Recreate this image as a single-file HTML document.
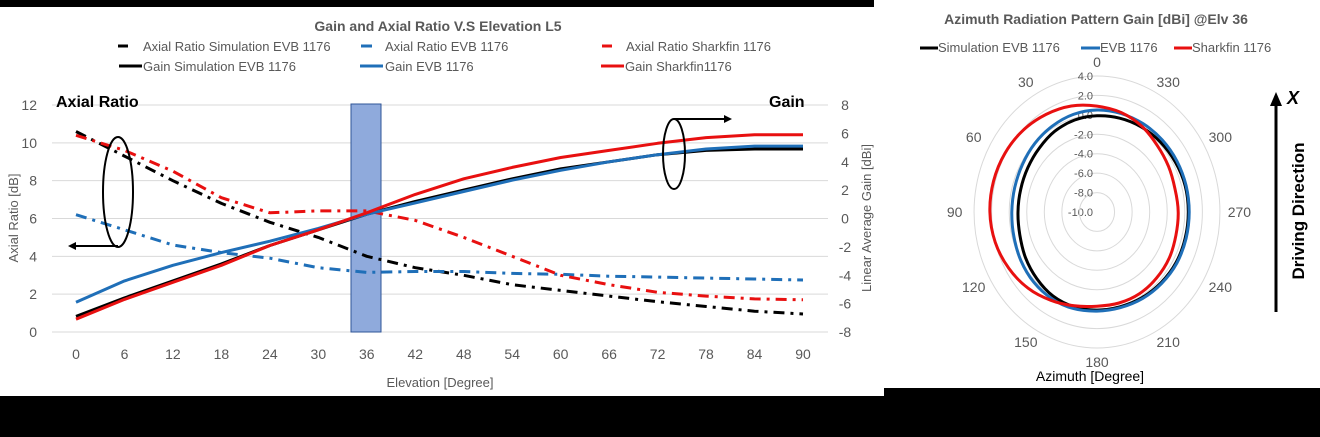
<!DOCTYPE html>
<html><head><meta charset="utf-8">
<style>
html,body{margin:0;padding:0;background:#000;}
body{width:1320px;height:437px;overflow:hidden;position:relative;font-family:"Liberation Sans",sans-serif;}
svg{position:absolute;left:0;top:0;}
</style></head>
<body>
<svg id="chart" width="1320" height="437" viewBox="0 0 1320 437" xmlns="http://www.w3.org/2000/svg" font-family="Liberation Sans, sans-serif">
  <rect x="0" y="0" width="1320" height="437" fill="#000"/>
  <rect x="0" y="7" width="884" height="389" fill="#fff"/>
  <rect x="874" y="0" width="446" height="388" fill="#fff"/>
  <g id="left"></g>
  <g id="right"></g>
</svg>
<script>
// ---- Left chart data ----
const elevations = [0,6,12,18,24,30,36,42,48,54,60,66,72,78,84,90];
const arSim   = [10.6,9.3,8.0,6.8,5.8,5.0,4.0,3.4,3.0,2.5,2.2,1.9,1.6,1.35,1.1,0.95];
const arEvb   = [6.2,5.4,4.6,4.2,3.9,3.4,3.15,3.2,3.2,3.1,3.05,2.95,2.9,2.85,2.8,2.75];
const arShark = [10.4,9.6,8.5,7.1,6.3,6.4,6.4,5.9,5.0,4.0,3.0,2.5,2.1,1.9,1.75,1.7];
const gainSim   = [-6.9,-5.6,-4.4,-3.2,-1.9,-0.8,0.3,1.2,2.0,2.8,3.5,4.0,4.5,4.8,4.9,4.9];
const gainEvb   = [-5.9,-4.4,-3.3,-2.4,-1.6,-0.7,0.3,1.1,1.9,2.7,3.4,4.0,4.5,4.9,5.1,5.1];
const gainShark = [-7.1,-5.7,-4.5,-3.3,-1.9,-0.8,0.4,1.7,2.8,3.6,4.3,4.8,5.3,5.7,5.9,5.9];
const arTicks = [0,2,4,6,8,10,12];
const gainTicks = [-8,-6,-4,-2,0,2,4,6,8];
// ---- Polar data ----
const azimuths = [0,15,30,45,60,75,90,105,120,135,150,165,180,195,210,225,240,255,270,285,300,315,330,345];
const polSim   = [-0.1,-0.2,-0.4,-0.7,-0.9,-1.0,-1.0,-0.9,-0.6,-0.3,0,0.1,0.1,0.1,0.2,0.3,0.4,0.4,0.4,0.4,0.3,0.2,0.1,0];
const polEvb   = [0.5,0.4,0.2,0,-0.2,-0.3,-0.3,-0.2,0,0.2,0.3,0.3,0.2,0.2,0.3,0.4,0.5,0.5,0.5,0.5,0.5,0.5,0.5,0.5];
const polShark = [0.9,1.3,1.6,1.9,2.1,2.2,2.2,2.0,1.6,1.1,0.5,0,-0.3,-0.3,-0.3,-0.4,-0.5,-0.7,-0.75,-0.8,-0.6,-0.3,0.2,0.6];
const rTicks = [-10,-8,-6,-4,-2,0,2,4];
const angleLabels = [0,30,60,90,120,150,180,210,240,270,300,330];

const NS="http://www.w3.org/2000/svg";
function mk(tag,attrs,parent,text){const e=document.createElementNS(NS,tag);for(const k in attrs)e.setAttribute(k,attrs[k]);if(text!==undefined)e.textContent=text;parent.appendChild(e);return e;}

const L=document.getElementById('left');
const xS=v=>76+v*(803-76)/90;
const yAR=v=>332-v*(332-105)/12;
const yG=v=>332-(v+8)*(332-105)/16;

// gridlines + ticks
arTicks.forEach((t,i)=>{
  const g=mk('line',{x1:52,x2:828,y1:yAR(t),y2:yAR(t),stroke:'#d9d9d9','stroke-width':1},L);
  
  
  const lb=mk('text',{x:37,y:yAR(t)+5,'text-anchor':'end','font-size':14,fill:'#595959'},L,String(t));
  
  
});
gainTicks.forEach(t=>{
  const lb=mk('text',{x:845,y:yG(t)+5,'text-anchor':'middle','font-size':14,fill:'#595959'},L,String(t));
  
  
});
elevations.forEach(t=>{
  const lb=mk('text',{x:xS(t),y:359,'text-anchor':'middle','font-size':14,fill:'#595959'},L,String(t));
  
  
});
// highlight band
const band=mk('rect',{x:351,y:104,width:30,height:228,fill:'#8faadc',stroke:'#2f5597','stroke-width':1},L);



function line(xs,ys,yf,color,dashed,name){
  const d=xs.map((x,i)=>(i?'L':'M')+xS(x).toFixed(1)+','+yf(ys[i]).toFixed(1)).join(' ');
  const p=mk('path',{d:d,fill:'none',stroke:color,'stroke-width':3,'stroke-linejoin':'round'},L);
  if(dashed)p.setAttribute('stroke-dasharray','11 6 3 6');
  
  
}
line(elevations,arSim,yAR,'#000',true,'axial-ratio-simulation-line');
line(elevations,arEvb,yAR,'#1f6fb8',true,'axial-ratio-evb-line');
line(elevations,arShark,yAR,'#e81010',true,'axial-ratio-sharkfin-line');
line(elevations,gainSim,yG,'#000',false,'gain-simulation-line');
line(elevations,gainEvb,yG,'#1f6fb8',false,'gain-evb-line');
line(elevations,gainShark,yG,'#e81010',false,'gain-sharkfin-line');

// polar
const R=document.getElementById('right');
const cx=1097,cy=212,pr=136/14,sx=0.904;
const rOf=v=>(v+10)*pr;
rTicks.forEach(t=>{
  const r=rOf(t);
  if(r>0){const c=mk('ellipse',{cx:cx,cy:cy,rx:r*sx,ry:r,fill:'none',stroke:'#d9d9d9','stroke-width':1},R);
  
  }
  const lb=mk('text',{x:cx-4,y:cy-r+4,'text-anchor':'end','font-size':11,fill:'#595959'},R,t.toFixed(1));
  
  
});
angleLabels.forEach(a=>{
  const rr=150,rad=a*Math.PI/180;
  const x=cx-Math.sin(rad)*rr*sx*1.05, y=cy-Math.cos(rad)*rr+5;
  const lb=mk('text',{x:x,y:y,'text-anchor':'middle','font-size':14,fill:'#595959'},R,String(a));
  
  
});
function polar(vals,color,name){
  const pts=azimuths.map((a,i)=>{const rad=a*Math.PI/180,r=rOf(vals[i]);return [cx-Math.sin(rad)*r*sx,cy-Math.cos(rad)*r];});
  const n=pts.length;let d='M'+pts[0][0].toFixed(1)+','+pts[0][1].toFixed(1);
  for(let i=0;i<n;i++){const p0=pts[(i-1+n)%n],p1=pts[i],p2=pts[(i+1)%n],p3=pts[(i+2)%n];
    const c1=[p1[0]+(p2[0]-p0[0])/6,p1[1]+(p2[1]-p0[1])/6],c2=[p2[0]-(p3[0]-p1[0])/6,p2[1]-(p3[1]-p1[1])/6];
    d+=' C'+c1.map(v=>v.toFixed(1)).join(',')+' '+c2.map(v=>v.toFixed(1)).join(',')+' '+p2.map(v=>v.toFixed(1)).join(',');}
  const p=mk('path',{d:d+'Z',fill:'none',stroke:color,'stroke-width':3},R);
  
  
}
polar(polSim,'#000','polar-simulation-line');
polar(polEvb,'#1f6fb8','polar-evb-line');
polar(polShark,'#e81010','polar-sharkfin-line');
</script>
<svg width="1320" height="437" viewBox="0 0 1320 437" xmlns="http://www.w3.org/2000/svg" font-family="Liberation Sans, sans-serif">
  <text x="438" y="31" text-anchor="middle" font-size="14" font-weight="bold" fill="#595959">Gain and Axial Ratio V.S Elevation L5</text>
  <g font-size="13" fill="#595959">
    <g><line x1="118" y1="46" x2="128" y2="46" stroke="#000" stroke-width="3"/><text x="143" y="51">Axial Ratio Simulation EVB 1176</text></g>
    <g><line x1="361" y1="46" x2="372" y2="46" stroke="#1f6fb8" stroke-width="3"/><text x="385" y="51">Axial Ratio EVB 1176</text></g>
    <g><line x1="602" y1="46" x2="612" y2="46" stroke="#e81010" stroke-width="3"/><text x="626" y="51">Axial Ratio Sharkfin 1176</text></g>
    <g><line x1="119" y1="66" x2="142" y2="66" stroke="#000" stroke-width="3"/><text x="143" y="71">Gain Simulation EVB 1176</text></g>
    <g><line x1="360" y1="66" x2="383" y2="66" stroke="#1f6fb8" stroke-width="3"/><text x="385" y="71">Gain EVB 1176</text></g>
    <g><line x1="601" y1="66" x2="624" y2="66" stroke="#e81010" stroke-width="3"/><text x="625" y="71">Gain Sharkfin1176</text></g>
  </g>
  <text x="56" y="107" font-size="16" font-weight="bold" fill="#000">Axial Ratio</text>
  <text x="769" y="107" font-size="16" font-weight="bold" fill="#000">Gain</text>
  <text transform="translate(18,218) rotate(-90)" text-anchor="middle" font-size="13" fill="#595959">Axial Ratio [dB]</text>
  <text transform="translate(871,218) rotate(-90)" text-anchor="middle" font-size="13" fill="#595959">Linear Average Gain [dBi]</text>
  <text x="440" y="387" text-anchor="middle" font-size="13" fill="#595959">Elevation [Degree]</text>
  <ellipse cx="118" cy="192" rx="15" ry="55" fill="none" stroke="#000" stroke-width="2"/>
  <line x1="118" y1="246" x2="74" y2="246" stroke="#000" stroke-width="2"/>
  <polygon points="68,246 76,242 76,250" fill="#000"/>
  <ellipse cx="674" cy="154" rx="11" ry="35" fill="none" stroke="#000" stroke-width="2"/>
  <line x1="674" y1="119" x2="726" y2="119" stroke="#000" stroke-width="2"/>
  <polygon points="732,119 724,115 724,123" fill="#000"/>

  <text x="1096" y="24" text-anchor="middle" font-size="14" font-weight="bold" fill="#595959">Azimuth Radiation Pattern Gain [dBi] @Elv 36</text>
  <g font-size="13" fill="#595959">
    <g><line x1="920" y1="48" x2="938" y2="48" stroke="#000" stroke-width="3"/><text x="938" y="52">Simulation EVB 1176</text></g>
    <g><line x1="1081" y1="48" x2="1100" y2="48" stroke="#1f6fb8" stroke-width="3"/><text x="1100" y="52">EVB 1176</text></g>
    <g><line x1="1174" y1="48" x2="1192" y2="48" stroke="#e81010" stroke-width="3"/><text x="1192" y="52">Sharkfin 1176</text></g>
  </g>
  <text x="1090" y="381" text-anchor="middle" font-size="14" fill="#000">Azimuth [Degree]</text>
  <line x1="1276" y1="312" x2="1276" y2="104" stroke="#000" stroke-width="3"/>
  <polygon points="1276,92 1270,106 1282,106" fill="#000"/>
  <text x="1287" y="104" font-size="18" font-weight="bold" font-style="italic" fill="#000">X</text>
  <text transform="translate(1304,211) rotate(-90)" text-anchor="middle" font-size="17" font-weight="bold" fill="#000">Driving Direction</text>
</svg>
</body></html>
